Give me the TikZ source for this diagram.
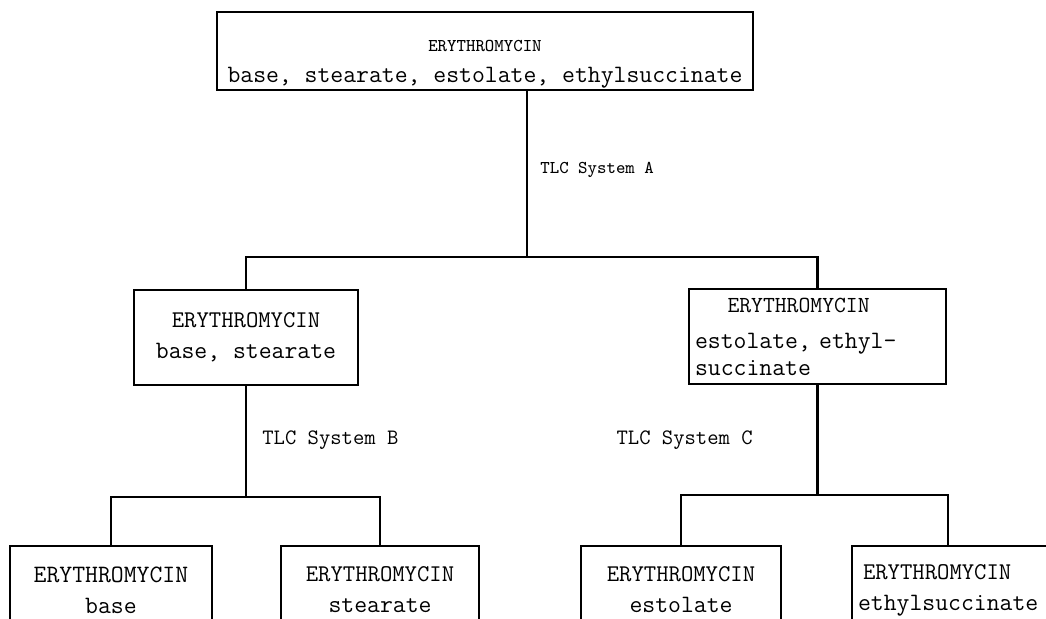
\documentclass[tikz,border=0pt]{standalone}
\usepackage{tikz}
\usetikzlibrary{positioning, calc}

\begin{document}
\begin{tikzpicture}[
  x=0.5pt, y=-0.5pt,
  stage/.style = {rectangle, draw, line width=1.3pt, inner xsep=3pt, inner ysep=1pt,
                  font=\ttfamily\fontsize{12.5}{15.5}\selectfont, align=center},
  leaf/.style  = {stage, minimum height=44pt},
  tlc/.style   = {font=\ttfamily\fontsize{11}{13}\selectfont, inner sep=0pt},
  link/.style  = {line width=1.3pt},
]
  \useasboundingbox (0,0) rectangle (1046,619);

  % Starting mixture
  \node[stage, minimum width=268pt, minimum height=39pt] (mix) at (485,51)
    {\rule{0pt}{18.5pt}{\fontsize{9}{11}\selectfont ERYTHROMYCIN}\\base, stearate, estolate, ethylsuccinate};

  % First split
  \node[stage, minimum width=112pt, minimum height=47.5pt] (basest) at (246,337.5)
    {{\fontsize{12}{15.5}\selectfont ERYTHROMYCIN}\\base, stearate};
  \node[stage, text width=122.5pt, align=left, minimum height=47.5pt,
        font=\ttfamily\fontsize{12.5}{13.5}\selectfont] (esteth) at (817.5,336.5)
    {\hspace*{1.3em}{\fontsize{11.5}{13.5}\selectfont ERYTHROMYCIN}\\[4.5pt]estolate, ethyl-\\succinate};

  % Single salts
  \node[leaf, minimum width=101pt] (base)     at (111,590)
    {{\fontsize{12.5}{15}\selectfont ERYTHROMYCIN}\\base};
  \node[leaf, minimum width=99pt]  (stearate) at (380,590)
    {{\fontsize{12}{15}\selectfont ERYTHROMYCIN}\\stearate};
  \node[leaf, minimum width=100pt] (estolate) at (681,590)
    {{\fontsize{12}{15}\selectfont ERYTHROMYCIN}\\estolate};
  \node[leaf, text width=98pt, align=left] (ethsucc) at (956,590)
    {\hspace*{0.2em}{\fontsize{12}{15}\selectfont ERYTHROMYCIN}\\ethylsuccinate};

  % Junctions
  \coordinate (jA) at (527,257);
  \coordinate (jB) at (246,497);
  \coordinate (jC) at (817.5,495);

  \draw[link] (mix.south -| jA) -- (jA);
  \draw[link] (basest.north) |- (jA) -| (esteth.north);
  \draw[link] (basest.south) -- (jB);
  \draw[link] (base.north) |- (jB) -| (stearate.north);
  \draw[link] (esteth.south) -- (jC);
  \draw[link] (estolate.north) |- (jC) -| ($(ethsucc.north)+(-8,0)$);

  % TLC systems
  \node[tlc, font=\ttfamily\fontsize{9}{11}\selectfont, anchor=west] (sysA) at (540,170) {TLC System A};
  \node[tlc, anchor=west] (sysB) at (262,440) {TLC System B};
  \node[tlc, anchor=east] (sysC) at (753,440) {TLC System C};
\end{tikzpicture}
\end{document}
